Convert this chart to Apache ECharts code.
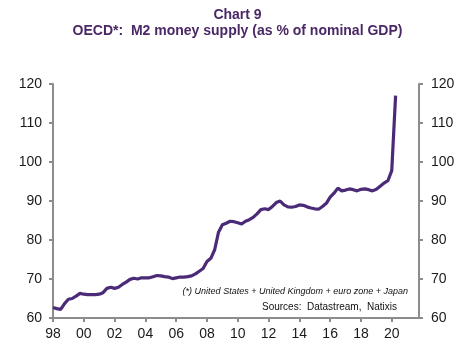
<!DOCTYPE html>
<html>
<head>
<meta charset="utf-8">
<script src="https://cdn.jsdelivr.net/npm/echarts@6/dist/echarts.min.js"></script>
<style>html,body{margin:0;padding:0;background:#fff;}#c{width:475px;height:353px;}</style>
</head>
<body>
<div id="c"></div>
<script>
// Quarterly observations, starting 1998 Q1
const startYear = 1998;
const m2Share = [
  62.7, 62.4, 62.2, 63.7,  64.8, 65.0, 65.6, 66.3,
  66.1, 66.0, 66.0, 66.0,  66.1, 66.5, 67.6, 67.9,
  67.6, 67.9, 68.6, 69.2,  69.9, 70.2, 70.0, 70.3,
  70.3, 70.3, 70.6, 70.9,  70.8, 70.6, 70.5, 70.1,
  70.3, 70.5, 70.5, 70.6,  70.8, 71.3, 72.0, 72.7,
  74.5, 75.3, 77.5, 82.0,  83.9, 84.3, 84.8, 84.7,
  84.4, 84.1, 84.8, 85.2,  85.8, 86.7, 87.8, 88.0,
  87.8, 88.6, 89.6, 90.0,  89.0, 88.5, 88.4, 88.6,
  89.0, 88.9, 88.5, 88.2,  88.0, 87.9, 88.6, 89.4,
  91.0, 92.0, 93.3, 92.6,  92.8, 93.1, 92.9, 92.6,
  93.0, 93.1, 92.9, 92.6,  93.0, 93.8, 94.6, 95.2,
  97.8, 117.0
];
const yTicks = [60, 70, 80, 90, 100, 110, 120];
const xTickYears = [1998, 2000, 2002, 2004, 2006, 2008, 2010, 2012, 2014, 2016, 2018, 2020];
const titleText = 'Chart 9';
const subtitleText = 'OECD*:  M2 money supply (as % of nominal GDP)';
const noteText = '(*) United States + United Kingdom + euro zone + Japan';
const sourceText = 'Sources:  Datastream,  Natixis';

const points = m2Share.map((v, i) => [startYear + i / 4, v]);

const axisColor = '#8c8c8c';
const labelColor = '#1a1a1a';
const purple = '#4b2a78';
const font = 'Liberation Sans, Arial, sans-serif';

const yAxisCommon = {
  type: 'value', min: 60, max: 120, interval: 10,
  axisLine: { show: true, lineStyle: { color: axisColor, width: 2 } },
  axisTick: { show: true, length: 4, lineStyle: { color: axisColor, width: 2 } },
  splitLine: { show: false },
  axisLabel: { color: labelColor, fontSize: 14, fontFamily: font }
};

const chart = echarts.init(document.getElementById('c'), null, { renderer: 'canvas' });
chart.setOption({
  animation: false,
  backgroundColor: '#fff',
  title: [
    { text: titleText, left: 'center', top: 3,
      textStyle: { fontSize: 14, fontWeight: 'bold', color: '#4a2866', fontFamily: font } },
    { text: subtitleText, left: 'center', top: 19,
      textStyle: { fontSize: 14, fontWeight: 'bold', color: '#4a2866', fontFamily: font } }
  ],
  grid: { left: 53, right: 56, top: 84, bottom: 35, containLabel: false },
  xAxis: {
    type: 'value', min: 1998, max: 2021.77, interval: 2,
    axisLine: { show: true, onZero: false, lineStyle: { color: axisColor, width: 2 } },
    axisTick: { show: true, length: 4, lineStyle: { color: axisColor, width: 2 } },
    splitLine: { show: false },
    axisLabel: {
      color: labelColor, fontSize: 14, fontFamily: font, margin: 9,
      showMaxLabel: false,
      formatter: v => xTickYears.includes(v) ? String(v).slice(2) : ''
    }
  },
  yAxis: [
    Object.assign({}, yAxisCommon, { position: 'left', axisLabel: Object.assign({}, yAxisCommon.axisLabel, { margin: 11 }) }),
    Object.assign({}, yAxisCommon, { position: 'right', axisLabel: Object.assign({}, yAxisCommon.axisLabel, { margin: 12 }) })
  ],
  series: [{
    type: 'line', data: points, yAxisIndex: 0, showSymbol: false, smooth: false,
    lineStyle: { color: purple, width: 3.2 }
  }],
  graphic: [
    { type: 'text', right: 67, top: 287,
      style: { text: noteText, font: 'italic 9px ' + font, fill: '#111', textAlign: 'right' } },
    { type: 'text', right: 78, top: 302,
      style: { text: sourceText, font: '10px ' + font, fill: '#111', textAlign: 'right' } }
  ]
});
</script>
</body>
</html>
